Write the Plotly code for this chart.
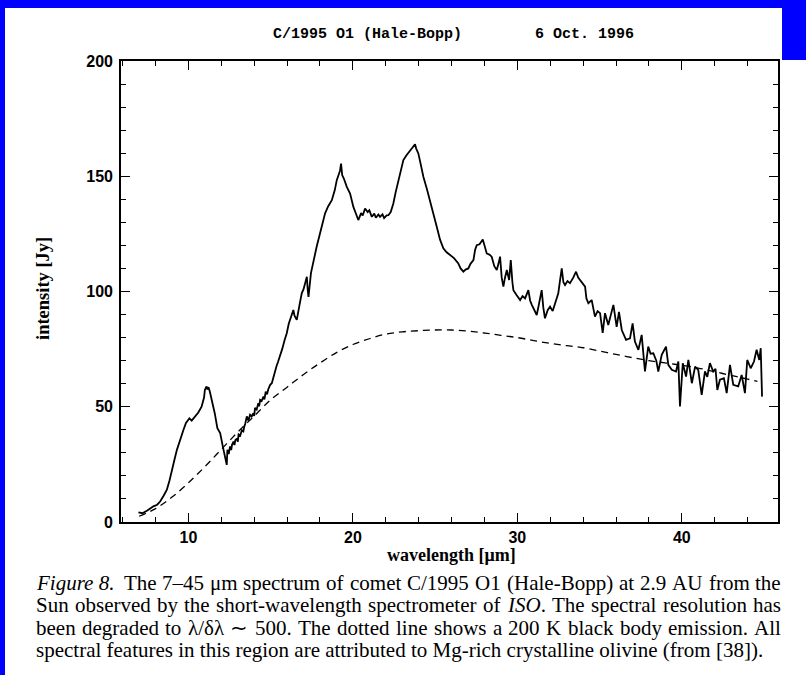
import re
import plotly.graph_objects as go

# ---------------- data ----------------
wavelength = [6.96, 7.2, 7.5, 7.87, 8.1, 8.28, 8.5, 8.69, 8.85, 8.99, 9.15, 9.3, 9.5, 9.7, 9.85,
              10.06, 10.2, 10.4, 10.6, 10.8, 10.95, 11.0, 11.1, 11.15, 11.22, 11.3, 11.45, 11.6,
              11.76, 11.85, 11.93, 12.09, 12.23, 12.3, 12.33, 12.37, 12.45, 12.53, 12.6, 12.65, 12.74,
              12.8, 12.85, 12.95, 13.0, 13.05, 13.15, 13.25, 13.34, 13.4, 13.45, 13.55, 13.65, 13.75,
              13.85, 13.95, 14.0, 14.05, 14.15, 14.25, 14.3, 14.36, 14.45, 14.56, 14.62, 14.7, 14.78,
              14.85, 14.97, 15.07, 15.2, 15.35, 15.45, 15.57, 15.7, 15.85, 15.98, 16.1, 16.2, 16.3,
              16.38, 16.45, 16.59, 16.75, 16.89, 17.0, 17.1, 17.2, 17.25, 17.3, 17.45, 17.6, 17.8,
              18.0, 18.15, 18.31, 18.5, 18.72, 18.9, 19.02, 19.15, 19.22, 19.28, 19.35, 19.45,
              19.53, 19.63, 19.83, 20.03, 20.2, 20.33, 20.5, 20.6, 20.74, 20.9, 21.0, 21.15, 21.3,
              21.4, 21.55, 21.65, 21.8, 21.9, 22.05, 22.16, 22.3, 22.46, 22.6, 22.77, 22.9, 23.07,
              23.25, 23.48, 23.65, 23.78, 23.85, 23.98, 24.1, 24.29, 24.5, 24.69, 24.9, 25.1, 25.3,
              25.5, 25.7, 25.91, 26.15, 26.41, 26.55, 26.72, 26.85, 27.02, 27.15, 27.33, 27.43,
              27.53, 27.7, 27.9, 28.0, 28.14, 28.3, 28.44, 28.6, 28.75, 28.85, 28.95, 29.05,
              29.15, 29.25, 29.36, 29.5, 29.6, 29.7, 29.76, 29.95, 30.17, 30.32, 30.47, 30.67,
              30.78, 30.88, 31.05, 31.18, 31.3, 31.48, 31.58, 31.68, 31.85, 31.99, 32.15, 32.29,
              32.49, 32.6, 32.7, 32.8, 32.9, 33.05, 33.2, 33.4, 33.57, 33.7, 33.81, 33.95,
              34.12, 34.2, 34.32, 34.52, 34.62, 34.72, 34.88, 35.03, 35.19, 35.33, 35.53, 35.84,
              36.04, 36.18, 36.35, 36.61, 36.85, 37.01, 37.15, 37.36, 37.56, 37.76, 37.96, 38.1,
              38.27, 38.45, 38.57, 38.78, 39.04, 39.18, 39.39, 39.65, 39.79, 39.89, 40.06, 40.26,
              40.4, 40.61, 40.81, 41.0, 41.21, 41.41, 41.55, 41.71, 41.91, 42.05, 42.16, 42.32,
              42.56, 42.73, 42.93, 43.13, 43.43, 43.64, 43.84, 43.98, 44.19, 44.39, 44.55, 44.71,
              44.8, 44.88]
intensity = [4.2, 3.8, 5.0, 6.8, 7.5, 8.9, 11.5, 14.0, 18.0, 22.7, 27.0, 31.3, 36.0, 40.0, 43.0,
             45.0, 44.0, 45.7, 47.5, 50.0, 54.0, 57.3, 58.8, 57.5, 58.5, 56.6, 52.0, 47.2,
             40.7, 39.5, 38.6, 32.8, 28.4, 27.0, 24.8, 31.3, 29.5, 32.8, 31.2, 33.5, 34.9,
             33.4, 35.5, 36.2, 34.8, 38.0, 37.5, 39.8, 39.3, 41.5, 42.5, 45.8, 44.0, 46.5,
             45.8, 47.2, 46.0, 49.5, 48.8, 51.5, 50.2, 53.0, 52.5, 54.4, 53.2, 56.5, 55.4,
             57.5, 59.5, 60.2, 64.0, 67.5, 69.5, 71.8, 75.0, 79.0, 81.9, 86.0, 88.0, 90.0,
             92.0, 89.5, 87.7, 94.0, 99.2, 101.0, 103.5, 106.4, 101.0, 97.7, 108.0, 113.6, 119.5,
             125.2, 129.0, 133.9, 137.0, 139.6, 144.0, 148.3, 151.0, 152.5, 155.5, 150.5, 149.0,
             146.9, 145.4, 142.5, 136.7, 133.5, 131.0, 134.0, 133.0, 136.0, 134.5, 135.3, 132.4, 133.8,
             132.0, 133.4, 132.4, 133.5, 131.8, 133.0, 133.1, 134.5, 138.2, 143.0, 148.3, 153.0, 157.0,
             159.0, 161.3, 162.5, 163.9, 162.0, 159.9, 156.0, 149.7, 144.5, 139.6, 134.0, 128.1, 122.5,
             118.7, 117.0, 115.8, 114.5, 112.2, 110.0, 108.6, 109.5, 110.0, 112.0, 113.6, 118.0,
             120.1, 120.5, 122.6, 120.0, 116.5, 116.0, 115.1, 111.0, 109.3, 112.0, 115.1, 106.0,
             102.1, 106.0, 109.3, 105.0, 113.6, 104.0, 100.6, 98.5, 96.3, 98.0, 97.0, 100.6,
             96.0, 94.2, 92.0, 89.8, 94.0, 100.6, 93.0, 88.4, 92.0, 93.4, 91.5, 94.9,
             99.2, 105.0, 110.0, 104.0, 102.8, 104.5, 103.6, 106.0, 108.6, 106.0, 105.0, 104.0,
             102.1, 97.0, 94.9, 96.3, 92.0, 89.1, 91.5, 90.6, 82.0, 90.6, 85.5, 94.2,
             84.7, 91.2, 83.3, 79.0, 79.7, 86.2, 78.3, 74.7, 81.2, 65.3, 76.1, 73.0,
             73.2, 70.0, 65.3, 72.5, 76.1, 68.2, 66.0, 65.3, 69.6, 50.1, 68.9, 63.1,
             70.3, 60.2, 67.4, 66.0, 55.2, 65.3, 63.0, 68.9, 65.3, 66.5, 57.3, 61.7,
             62.4, 55.9, 68.2, 59.5, 58.8, 63.8, 55.9, 70.3, 66.7, 69.6, 74.7, 70.3,
             75.4, 54.4]

# 200 K black body curve (dashed)
bb_wavelength = [7.0, 8.0, 9.0, 10.0, 11.0, 12.0, 13.0, 14.0, 15.0, 16.0, 17.0, 18.0, 19.0, 20.0,
                 21.0, 22.0, 23.0, 24.0, 25.0, 26.0, 27.0, 28.0, 29.0, 30.0, 31.0, 32.0, 33.0,
                 34.0, 35.0, 36.0, 37.0, 38.0, 39.0, 40.0, 41.0, 42.0, 43.0, 44.0, 44.6]
bb_intensity = [2.5, 5.8, 10.8, 17.0, 24.0, 31.5, 39.0, 46.0, 53.0, 58.5, 64.0, 69.0, 73.5, 77.0,
                79.5, 81.5, 82.5, 83.0, 83.3, 83.3, 82.8, 82.0, 81.0, 80.0, 78.7, 77.5, 76.5,
                75.6, 74.2, 72.7, 71.3, 70.0, 69.0, 68.0, 66.8, 65.2, 63.6, 62.0, 61.0]

x_ticks = [10, 20, 30, 40]
y_ticks = [0, 50, 100, 150, 200]

title_left = "C/1995 O1 (Hale-Bopp)"
title_right = "6 Oct. 1996"
x_label = "wavelength [μm]"
y_label = "intensity [Jy]"
caption = [
    "<i>Figure 8.</i>  The 7–45 μm spectrum of comet C/1995 O1 (Hale-Bopp) at 2.9 AU from the",
    "Sun observed by the short-wavelength spectrometer of <i>ISO</i>. The spectral resolution has",
    "been degraded to λ/δλ ∼ 500. The dotted line shows a 200 K black body emission. All",
    "spectral features in this region are attributed to Mg-rich crystalline olivine (from [38]).",
]

# ---------------- layout geometry ----------------
W, H = 806, 675
ML, MR, MT, MB = 121, 28, 61, 153
PW, PH = W - ML - MR, H - MT - MB


def px(xp):
    return (xp - ML) / PW


def py(yp):
    return (H - MB - yp) / PH


# approximate Times-like advance widths (em) used to justify caption lines
_W = {}
_W.update(dict(zip("abcdefghijklmnopqrstuvwxyz",
                   [.444, .5, .444, .5, .444, .333, .5, .5, .278, .278, .5, .278, .778, .5, .5, .5,
                    .5, .333, .389, .278, .5, .5, .722, .5, .5, .444])))
_W.update(dict(zip("ABCDEFGHIJKLMNOPQRSTUVWXYZ",
                   [.722, .667, .667, .722, .611, .556, .722, .722, .333, .389, .722, .611, .889,
                    .722, .722, .556, .722, .667, .556, .611, .722, .722, .944, .722, .722, .611])))
_W.update({c: .5 for c in "0123456789"})
_W.update({" ": .25, ".": .25, ",": .25, "-": .333, "/": .278, "(": .333, ")": .333,
           "[": .333, "]": .333, "–": .5, "μ": .5, "λ": .47, "δ": .47, "∼": .9})


def text_w(s, size):
    s = re.sub(r"<[^>]+>", "", s)
    return sum(_W.get(c, .5) for c in s) * size


def justified_words(line, x0, x1, size):
    line = line.replace("<i>Figure 8.</i>", "<i>Figure\u00a08.</i>")
    raw = line.split(" ")
    words, weights, pending = [], [], 0
    for t in raw:
        if t == "":
            pending += 1
            continue
        if words:
            weights.append(1 + pending)
        pending = 0
        words.append(t.replace("\u00a0", " "))
    widths = [text_w(w, size) for w in words]
    unit = (x1 - x0 - sum(widths)) / sum(weights)
    out, x = [], x0
    for i, w in enumerate(words):
        out.append((w, x))
        if i < len(weights):
            x += widths[i] + unit * weights[i]
    return out


fig = go.Figure()
fig.add_trace(go.Scatter(x=bb_wavelength, y=bb_intensity, mode="lines",
                         line=dict(color="black", width=1.3, dash="7px,5px", shape="spline"),
                         hoverinfo="skip", showlegend=False))
fig.add_trace(go.Scatter(x=wavelength, y=intensity, mode="lines",
                         line=dict(color="black", width=1.8),
                         showlegend=False))

axis_common = dict(showline=True, linecolor="black", linewidth=1.6, mirror="ticks",
                   ticks="inside", ticklen=9, tickwidth=1.3, tickcolor="black",
                   showgrid=False, zeroline=False,
                   tickfont=dict(family="Liberation Sans", size=16, color="black", weight="bold"))

fig.update_xaxes(range=[5.9, 45.85], tickvals=x_ticks,
                 minor=dict(dtick=2, tick0=0, ticks="inside", ticklen=5, tickwidth=1, tickcolor="black"),
                 ticklabelstandoff=0,
                 **axis_common)
fig.update_yaxes(range=[0, 200], tickvals=y_ticks,
                 minor=dict(dtick=10, tick0=0, ticks="inside", ticklen=5, tickwidth=1, tickcolor="black"),
                 ticklabelstandoff=3,
                 **axis_common)

label_font = dict(family="Liberation Serif", size=18, color="black", weight="bold")
title_font = dict(family="Liberation Mono", size=15, color="black", weight="bold")
annotations = [
    dict(text=title_left, x=px(367), y=py(35), xref="paper", yref="paper", showarrow=False,
         xanchor="center", yanchor="middle", font=title_font),
    dict(text=title_right, x=px(584), y=py(35), xref="paper", yref="paper", showarrow=False,
         xanchor="center", yanchor="middle", font=title_font),
    dict(text=x_label, x=px(451), y=py(555), xref="paper", yref="paper", showarrow=False,
         xanchor="center", yanchor="middle", font=label_font),
    dict(text=y_label, x=px(43), y=py(289), xref="paper", yref="paper", showarrow=False,
         xanchor="center", yanchor="middle", textangle=-90,
         font=dict(family="Liberation Serif", size=18.5, color="black", weight="bold")),
]

CAP_SIZE = 21
cap_font = dict(family="Liberation Serif", size=CAP_SIZE, color="black")
for i, line in enumerate(caption):
    yy = py(583 + 22.3 * i)
    if i < len(caption) - 1:
        for word, xw in justified_words(line, 35, 780, CAP_SIZE):
            annotations.append(dict(text=word, x=px(xw), y=yy, xref="paper", yref="paper",
                                    showarrow=False, xanchor="left", yanchor="middle",
                                    font=cap_font, borderpad=0))
    else:
        annotations.append(dict(text=line, x=px(35), y=yy, xref="paper", yref="paper",
                                showarrow=False, xanchor="left", yanchor="middle",
                                font=cap_font, borderpad=0))

blue = "#0000FF"
shapes = [
    dict(type="rect", xref="paper", yref="paper", x0=px(0), x1=px(W), y0=py(0), y1=py(8),
         fillcolor=blue, line=dict(width=0), layer="above"),
    dict(type="rect", xref="paper", yref="paper", x0=px(0), x1=px(5), y0=py(0), y1=py(H),
         fillcolor=blue, line=dict(width=0), layer="above"),
    dict(type="rect", xref="paper", yref="paper", x0=px(782), x1=px(W), y0=py(0), y1=py(60),
         fillcolor=blue, line=dict(width=0), layer="above"),
]

fig.update_layout(width=W, height=H, margin=dict(l=ML, r=MR, t=MT, b=MB),
                  paper_bgcolor="white", plot_bgcolor="white",
                  annotations=annotations, shapes=shapes)

fig.write_html("out.html")
